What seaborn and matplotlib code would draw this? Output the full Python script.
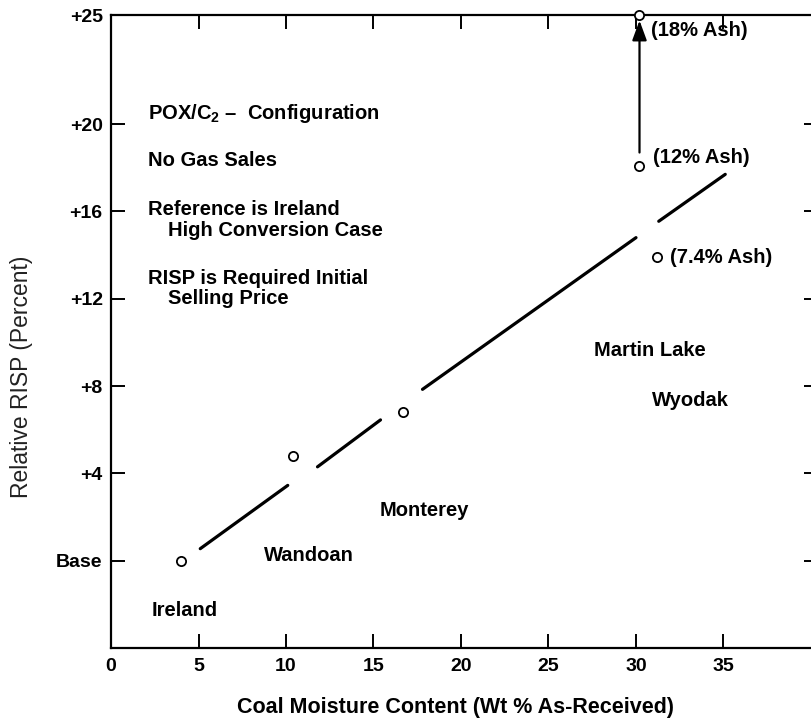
import matplotlib
matplotlib.use("Agg")
import matplotlib.pyplot as plt
import seaborn as sns
import pandas as pd

# Coal cases: moisture content (wt % as-received) vs relative RISP (%)
coal_case = ["Ireland", "Wandoan", "Monterey", "12% Ash", "7.4% Ash", "18% Ash"]
moisture = [4.0, 10.4, 16.7, 30.2, 31.2, 30.2]
risp = [0.0, 4.8, 6.8, 18.1, 13.9, 25.0]

# Broken trend line: start/end of each drawn piece
seg_x0 = [5.1, 11.8, 17.8, 31.3]
seg_x1 = [10.1, 15.4, 30.0, 35.1]
seg_y0 = [0.55, 4.3, 7.85, 15.55]
seg_y1 = [3.45, 6.45, 14.8, 17.7]

x_ticks = [0, 5, 10, 15, 20, 25, 30, 35]
y_ticks = [0, 4, 8, 12, 16, 20, 25]
y_tick_labels = ["Base", "+4", "+8", "+12", "+16", "+20", "+25"]

sns.set_theme(style="ticks")
plt.rcParams["font.family"] = ["Liberation Sans", "DejaVu Sans"]
plt.rcParams["mathtext.fontset"] = "custom"
plt.rcParams["mathtext.rm"] = "Liberation Sans:bold"
plt.rcParams["mathtext.it"] = "Liberation Sans:bold"
plt.rcParams["mathtext.bf"] = "Liberation Sans:bold"

fig = plt.figure(figsize=(8.11, 7.22), dpi=100)
ax = fig.add_axes([111 / 811, 74 / 722, 707 / 811, 633 / 722])

points = pd.DataFrame({"case": coal_case, "moisture": moisture, "risp": risp})
trend = pd.DataFrame({
    "seg": [i for i in range(len(seg_x0)) for _ in range(2)],
    "x": [v for pair in zip(seg_x0, seg_x1) for v in pair],
    "y": [v for pair in zip(seg_y0, seg_y1) for v in pair],
})

sns.lineplot(data=trend, x="x", y="y", units="seg", estimator=None, sort=False,
             color="black", linewidth=2.3, ax=ax, legend=False)
sns.scatterplot(data=points, x="moisture", y="risp", marker="o", s=44,
                facecolor="white", edgecolor="black", linewidth=1.3,
                zorder=5, clip_on=False, ax=ax, legend=False)

# Arrow from the 12% ash case up to the 18% ash case
ax.annotate("", xy=(moisture[5], risp[5] - 0.25), xytext=(moisture[3], risp[3] + 0.6),
            arrowprops=dict(arrowstyle="-|>,head_length=0.6,head_width=0.22",
                            color="black", lw=1.6, mutation_scale=20,
                            shrinkA=0, shrinkB=0))

ax.set_xlim(0, 40.4)
ax.set_ylim(-4, 25)
ax.set_xticks(x_ticks)
ax.set_xticklabels([str(t) for t in x_ticks], fontweight="bold")
ax.set_yticks(y_ticks)
ax.set_yticklabels(y_tick_labels, fontweight="bold")

for side in ["left", "right", "top", "bottom"]:
    ax.spines[side].set_visible(True)
    ax.spines[side].set_linewidth(1.6)
    ax.spines[side].set_color("black")

ax.tick_params(axis="both", which="major", direction="in", length=10,
               width=1.4, color="black", labelsize=14, labelcolor="black",
               top=True, right=True)
ax.tick_params(axis="x", pad=7)
ax.tick_params(axis="y", pad=6)

ax.set_xlabel("Coal Moisture Content (Wt % As-Received)", fontsize=15.5,
              fontweight="bold", color="black")
ax.set_ylabel("Relative RISP (Percent)", fontsize=16.5, color="#222222")
ax.xaxis.set_label_coords(0.4866, -0.077)
ax.yaxis.set_label_coords(-0.110, 0.429)

txt = dict(fontsize=14.5, fontweight="bold", color="black", va="center", ha="left")
ax.text(2.11, 20.48, "POX/C$_2$ –  Configuration", **txt)
ax.text(2.11, 18.32, "No Gas Sales", **txt)
ax.text(2.11, 16.07, "Reference is Ireland", **txt)
ax.text(3.26, 15.15, "High Conversion Case", **txt)
ax.text(2.11, 12.95, "RISP is Required Initial", **txt)
ax.text(3.26, 12.03, "Selling Price", **txt)

ax.text(30.86, 24.29, "(18% Ash)", **txt)
ax.text(30.97, 18.46, "(12% Ash)", **txt)
ax.text(31.94, 13.87, "(7.4% Ash)", **txt)
ax.text(27.6, 9.64, "Martin Lake", **txt)
ax.text(30.9, 7.35, "Wyodak", **txt)
ax.text(15.37, 2.30, "Monterey", **txt)
ax.text(8.74, 0.23, "Wandoan", **txt)
ax.text(2.34, -2.30, "Ireland", **txt)

fig.savefig("out.png", dpi=100, facecolor="white")
